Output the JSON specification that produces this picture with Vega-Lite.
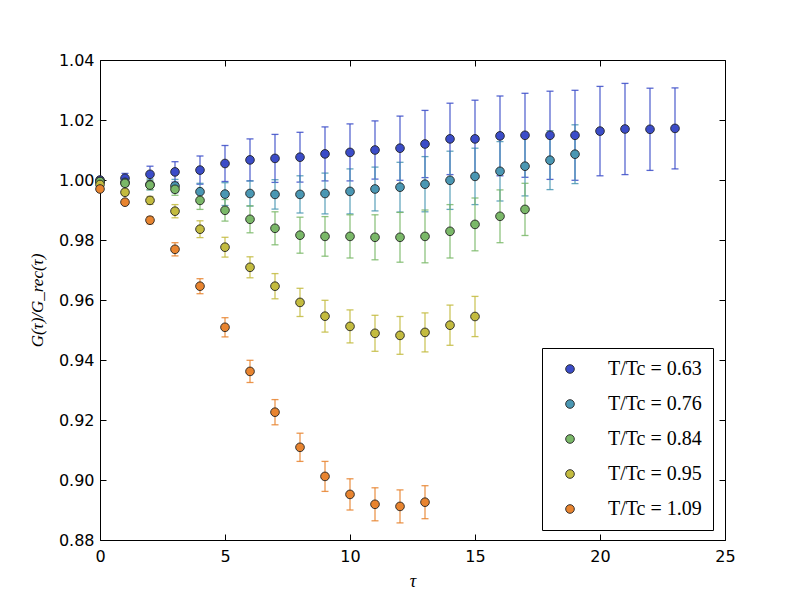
{
  "$schema": "https://vega.github.io/schema/vega-lite/v6.json",
  "width": 625,
  "height": 480,
  "autosize": {"type": "none"},
  "padding": {"left": 100, "top": 60, "right": 75, "bottom": 60},
  "background": "white",
  "config": {
    "view": {"stroke": "black", "strokeWidth": 1},
    "axis": {
      "grid": false,
      "domain": false,
      "labelFlush": false,
      "tickColor": "black",
      "tickSize": -6,
      "labelFont": "DejaVu Sans",
      "labelFontSize": 16,
      "labelColor": "black",
      "titleColor": "black"
    },
    "legend": {
      "title": null,
      "orient": "none",
      "legendX": 442,
      "legendY": 288,
      "direction": "vertical",
      "fillColor": "white",
      "strokeColor": "black",
      "padding": 11,
      "rowPadding": 15,
      "symbolType": "circle",
      "symbolSize": 75,
      "symbolOffset": 7,
      "symbolOpacity": 1,
      "symbolStrokeColor": "#222222",
      "symbolStrokeWidth": 0.9,
      "labelOffset": 28,
      "labelFont": "Liberation Serif",
      "labelFontSize": 20,
      "labelColor": "black"
    }
  },
  "data": {
    "values": [
      {"tau": 0, "g": 1.0000, "err": 0, "T": "T/Tc = 0.63"},
      {"tau": 1, "g": 1.0006, "err": 0.0016, "T": "T/Tc = 0.63"},
      {"tau": 2, "g": 1.0019, "err": 0.0027, "T": "T/Tc = 0.63"},
      {"tau": 3, "g": 1.0027, "err": 0.0034, "T": "T/Tc = 0.63"},
      {"tau": 4, "g": 1.0033, "err": 0.0047, "T": "T/Tc = 0.63"},
      {"tau": 5, "g": 1.0055, "err": 0.006, "T": "T/Tc = 0.63"},
      {"tau": 6, "g": 1.0067, "err": 0.007, "T": "T/Tc = 0.63"},
      {"tau": 7, "g": 1.0072, "err": 0.008, "T": "T/Tc = 0.63"},
      {"tau": 8, "g": 1.0076, "err": 0.0083, "T": "T/Tc = 0.63"},
      {"tau": 9, "g": 1.0087, "err": 0.009, "T": "T/Tc = 0.63"},
      {"tau": 10, "g": 1.0092, "err": 0.0095, "T": "T/Tc = 0.63"},
      {"tau": 11, "g": 1.0100, "err": 0.0097, "T": "T/Tc = 0.63"},
      {"tau": 12, "g": 1.0106, "err": 0.0107, "T": "T/Tc = 0.63"},
      {"tau": 13, "g": 1.0120, "err": 0.0112, "T": "T/Tc = 0.63"},
      {"tau": 14, "g": 1.0137, "err": 0.0119, "T": "T/Tc = 0.63"},
      {"tau": 15, "g": 1.0137, "err": 0.0129, "T": "T/Tc = 0.63"},
      {"tau": 16, "g": 1.0147, "err": 0.0133, "T": "T/Tc = 0.63"},
      {"tau": 17, "g": 1.0149, "err": 0.014, "T": "T/Tc = 0.63"},
      {"tau": 18, "g": 1.0149, "err": 0.0147, "T": "T/Tc = 0.63"},
      {"tau": 19, "g": 1.0149, "err": 0.015, "T": "T/Tc = 0.63"},
      {"tau": 20, "g": 1.0163, "err": 0.0149, "T": "T/Tc = 0.63"},
      {"tau": 21, "g": 1.0170, "err": 0.0152, "T": "T/Tc = 0.63"},
      {"tau": 22, "g": 1.0169, "err": 0.0137, "T": "T/Tc = 0.63"},
      {"tau": 23, "g": 1.0172, "err": 0.0135, "T": "T/Tc = 0.63"},

      {"tau": 0, "g": 0.9995, "err": 0, "T": "T/Tc = 0.76"},
      {"tau": 1, "g": 0.9992, "err": 0.0012, "T": "T/Tc = 0.76"},
      {"tau": 2, "g": 0.9985, "err": 0.0018, "T": "T/Tc = 0.76"},
      {"tau": 3, "g": 0.9980, "err": 0.0022, "T": "T/Tc = 0.76"},
      {"tau": 4, "g": 0.9961, "err": 0.0028, "T": "T/Tc = 0.76"},
      {"tau": 5, "g": 0.9953, "err": 0.0038, "T": "T/Tc = 0.76"},
      {"tau": 6, "g": 0.9955, "err": 0.0042, "T": "T/Tc = 0.76"},
      {"tau": 7, "g": 0.9952, "err": 0.0049, "T": "T/Tc = 0.76"},
      {"tau": 8, "g": 0.9952, "err": 0.0062, "T": "T/Tc = 0.76"},
      {"tau": 9, "g": 0.9955, "err": 0.0068, "T": "T/Tc = 0.76"},
      {"tau": 10, "g": 0.9962, "err": 0.0075, "T": "T/Tc = 0.76"},
      {"tau": 11, "g": 0.9970, "err": 0.0073, "T": "T/Tc = 0.76"},
      {"tau": 12, "g": 0.9976, "err": 0.0083, "T": "T/Tc = 0.76"},
      {"tau": 13, "g": 0.9986, "err": 0.0092, "T": "T/Tc = 0.76"},
      {"tau": 14, "g": 0.9999, "err": 0.0097, "T": "T/Tc = 0.76"},
      {"tau": 15, "g": 1.0012, "err": 0.0094, "T": "T/Tc = 0.76"},
      {"tau": 16, "g": 1.0029, "err": 0.0099, "T": "T/Tc = 0.76"},
      {"tau": 17, "g": 1.0046, "err": 0.0099, "T": "T/Tc = 0.76"},
      {"tau": 18, "g": 1.0066, "err": 0.0098, "T": "T/Tc = 0.76"},
      {"tau": 19, "g": 1.0086, "err": 0.0098, "T": "T/Tc = 0.76"},

      {"tau": 0, "g": 0.9995, "err": 0, "T": "T/Tc = 0.84"},
      {"tau": 1, "g": 0.9989, "err": 0.001, "T": "T/Tc = 0.84"},
      {"tau": 2, "g": 0.9983, "err": 0.0015, "T": "T/Tc = 0.84"},
      {"tau": 3, "g": 0.9969, "err": 0.002, "T": "T/Tc = 0.84"},
      {"tau": 4, "g": 0.9932, "err": 0.003, "T": "T/Tc = 0.84"},
      {"tau": 5, "g": 0.9899, "err": 0.0036, "T": "T/Tc = 0.84"},
      {"tau": 6, "g": 0.9869, "err": 0.0045, "T": "T/Tc = 0.84"},
      {"tau": 7, "g": 0.9839, "err": 0.0055, "T": "T/Tc = 0.84"},
      {"tau": 8, "g": 0.9816, "err": 0.006, "T": "T/Tc = 0.84"},
      {"tau": 9, "g": 0.9812, "err": 0.0066, "T": "T/Tc = 0.84"},
      {"tau": 10, "g": 0.9812, "err": 0.0072, "T": "T/Tc = 0.84"},
      {"tau": 11, "g": 0.9809, "err": 0.0075, "T": "T/Tc = 0.84"},
      {"tau": 12, "g": 0.9809, "err": 0.0083, "T": "T/Tc = 0.84"},
      {"tau": 13, "g": 0.9812, "err": 0.0088, "T": "T/Tc = 0.84"},
      {"tau": 14, "g": 0.9829, "err": 0.0089, "T": "T/Tc = 0.84"},
      {"tau": 15, "g": 0.9852, "err": 0.0088, "T": "T/Tc = 0.84"},
      {"tau": 16, "g": 0.9879, "err": 0.0088, "T": "T/Tc = 0.84"},
      {"tau": 17, "g": 0.9902, "err": 0.0087, "T": "T/Tc = 0.84"},

      {"tau": 0, "g": 0.9985, "err": 0, "T": "T/Tc = 0.95"},
      {"tau": 1, "g": 0.9959, "err": 0.001, "T": "T/Tc = 0.95"},
      {"tau": 2, "g": 0.9932, "err": 0.0013, "T": "T/Tc = 0.95"},
      {"tau": 3, "g": 0.9896, "err": 0.0022, "T": "T/Tc = 0.95"},
      {"tau": 4, "g": 0.9836, "err": 0.0028, "T": "T/Tc = 0.95"},
      {"tau": 5, "g": 0.9776, "err": 0.0033, "T": "T/Tc = 0.95"},
      {"tau": 6, "g": 0.9709, "err": 0.0035, "T": "T/Tc = 0.95"},
      {"tau": 7, "g": 0.9646, "err": 0.0042, "T": "T/Tc = 0.95"},
      {"tau": 8, "g": 0.9592, "err": 0.0047, "T": "T/Tc = 0.95"},
      {"tau": 9, "g": 0.9546, "err": 0.0053, "T": "T/Tc = 0.95"},
      {"tau": 10, "g": 0.9512, "err": 0.0055, "T": "T/Tc = 0.95"},
      {"tau": 11, "g": 0.9489, "err": 0.006, "T": "T/Tc = 0.95"},
      {"tau": 12, "g": 0.9482, "err": 0.0063, "T": "T/Tc = 0.95"},
      {"tau": 13, "g": 0.9492, "err": 0.0065, "T": "T/Tc = 0.95"},
      {"tau": 14, "g": 0.9516, "err": 0.0067, "T": "T/Tc = 0.95"},
      {"tau": 15, "g": 0.9545, "err": 0.0067, "T": "T/Tc = 0.95"},

      {"tau": 0, "g": 0.9970, "err": 0, "T": "T/Tc = 1.09"},
      {"tau": 1, "g": 0.9926, "err": 0.0007, "T": "T/Tc = 1.09"},
      {"tau": 2, "g": 0.9866, "err": 0.0012, "T": "T/Tc = 1.09"},
      {"tau": 3, "g": 0.9769, "err": 0.0022, "T": "T/Tc = 1.09"},
      {"tau": 4, "g": 0.9646, "err": 0.0025, "T": "T/Tc = 1.09"},
      {"tau": 5, "g": 0.9509, "err": 0.0032, "T": "T/Tc = 1.09"},
      {"tau": 6, "g": 0.9362, "err": 0.0037, "T": "T/Tc = 1.09"},
      {"tau": 7, "g": 0.9226, "err": 0.0042, "T": "T/Tc = 1.09"},
      {"tau": 8, "g": 0.9109, "err": 0.0047, "T": "T/Tc = 1.09"},
      {"tau": 9, "g": 0.9012, "err": 0.005, "T": "T/Tc = 1.09"},
      {"tau": 10, "g": 0.8952, "err": 0.0052, "T": "T/Tc = 1.09"},
      {"tau": 11, "g": 0.8919, "err": 0.0055, "T": "T/Tc = 1.09"},
      {"tau": 12, "g": 0.8912, "err": 0.0055, "T": "T/Tc = 1.09"},
      {"tau": 13, "g": 0.8926, "err": 0.0055, "T": "T/Tc = 1.09"}
    ]
  },
  "resolve": {"scale": {"color": "independent"}},
  "layer": [
    {
      "mark": {"type": "errorbar", "ticks": true, "size": 7, "thickness": 1.3, "opacity": 0.85},
      "encoding": {
        "x": {
          "field": "tau", "type": "quantitative",
          "scale": {"domain": [0, 25], "nice": false},
          "axis": {"orient": "top", "labels": false, "title": null, "values": [0, 5, 10, 15, 20, 25]}
        },
        "y": {
          "field": "g", "type": "quantitative",
          "scale": {"domain": [0.88, 1.04], "nice": false, "zero": false},
          "axis": {"orient": "right", "labels": false, "title": null, "values": [0.88, 0.9, 0.92, 0.94, 0.96, 0.98, 1.0, 1.02, 1.04]}
        },
        "yError": {"field": "err"},
        "color": {"field": "T", "type": "nominal", "legend": null,
          "scale": {"domain": ["T/Tc = 0.63", "T/Tc = 0.76", "T/Tc = 0.84", "T/Tc = 0.95", "T/Tc = 1.09"],
            "range": ["#3b4cc8", "#4a97b3", "#7ab868", "#c3bb3f", "#e8842f"]}
        }
      }
    },
    {
      "mark": {"type": "circle", "size": 75, "opacity": 1, "stroke": "#222222", "strokeWidth": 0.9},
      "encoding": {
        "x": {
          "field": "tau", "type": "quantitative",
          "axis": {"orient": "bottom", "title": "τ", "values": [0, 5, 10, 15, 20, 25],
            "labelPadding": 14, "titleFont": "Liberation Serif", "titleFontStyle": "italic",
            "titleFontWeight": "normal", "titleFontSize": 18, "titlePadding": 8}
        },
        "y": {
          "field": "g", "type": "quantitative",
          "axis": {"orient": "left", "title": "G(τ)/G_rec(τ)", "format": ".2f",
            "values": [0.88, 0.9, 0.92, 0.94, 0.96, 0.98, 1.0, 1.02, 1.04],
            "labelPadding": 12, "titleFont": "Liberation Serif", "titleFontStyle": "italic",
            "titleFontWeight": "normal", "titleFontSize": 17, "titlePadding": 12}
        },
        "color": {
          "field": "T", "type": "nominal",
          "scale": {"domain": ["T/Tc = 0.63", "T/Tc = 0.76", "T/Tc = 0.84", "T/Tc = 0.95", "T/Tc = 1.09"],
            "range": ["#3b4cc8", "#4a97b3", "#7ab868", "#c3bb3f", "#e8842f"]},
          "legend": {
            "symbolType": "circle",
            "encode": {"symbols": {"update": {
              "stroke": {"value": "#222222"},
              "strokeWidth": {"value": 0.9},
              "opacity": {"value": 1}
            }}}
          }
        }
      }
    }
  ]
}
